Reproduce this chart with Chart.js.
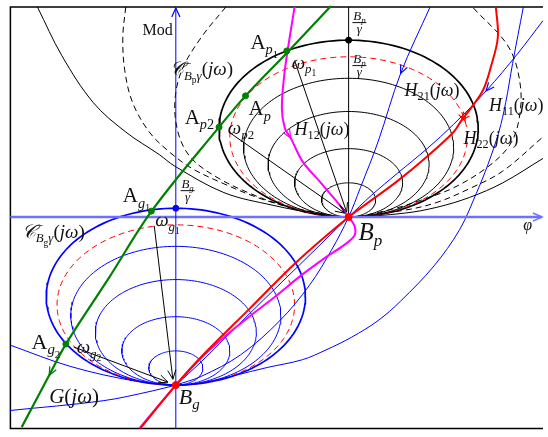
<!DOCTYPE html>
<html>
<head>
<meta charset="utf-8">
<script src="https://cdn.jsdelivr.net/npm/chart.js@4/dist/chart.umd.min.js"></script>
<style>
  html, body { margin: 0; padding: 0; background: #fff; }
  canvas { display: block; }
</style>
</head>
<body>
<canvas id="chart" width="548" height="437"></canvas>
<script>
// plane: phi to the right, Mod upward, origin where the two axes cross
const Bp = [176, 0]
const Bg = [0, -172]

// closed contours tangent to the phi axis at Bp and at Bg (half widths, half heights)
const contourRx = [132, 121, 107, 82, 55, 27.5]
const contourRy = [90.5, 82, 71, 54, 35, 17.5]

// wider contours through Bp
const bigSolid = [[-141,215],[-116,165],[-84,117],[-51,87],[-17,64],[-1,52],[49,25],[99,12],[146,3],[176,0],[233,4],[266,10],[299,20],[333,35],[374,60]]
const dashOuter = [[-51,215],[-54,184],[-52,150],[-44,117],[-27,87],[-7,67],[16,50],[49,34],[83,20],[116,10],[146,4],[176,0],[233,7],[266,15],[299,29],[333,47],[374,82]]
const dashInner = [[51,215],[26,184],[6,150],[-1,117],[3,84],[16,60],[43,40],[76,24],[109,12],[146,4],[176,0],[216,7],[249,17],[283,30],[316,50],[339,72],[349,97],[351,134],[339,174],[303,214]]

// wider contours through Bg
const bgArc = [[354,215],[343,157],[336,117],[329,87],[318,54],[306,24],[289,-13],[263,-50],[229,-86],[206,-106],[179,-123],[153,-136],[129,-146],[93,-154],[26,-170],[0,-172]]
const bgLowLeft = [[-169,-198],[-74,-188],[-24,-178],[0,-172]]
const bgUpLeft = [[-169,-131],[-107,-153],[-41,-168],[0,-172]]

// frequency responses
const gCurve = [[158,216],[114,169],[71,124],[44,92],[-24,7],[-68,-62],[-112,-130],[-129,-162],[-157,-215]]
const h12Curve = [[121,215],[116,184],[111,150],[108,112],[111,91],[117,81],[129,57],[146,37],[163,17],[176,0],[182,-9],[182,-19],[171,-29],[153,-41],[126,-61],[103,-80],[76,-101],[49,-123],[26,-144],[0,-172],[-37,-216]]
const redCurve = [[326,215],[328,184],[321,154],[313,130],[301,112],[291,99],[283,87],[256,62],[226,37],[199,17],[176,0],[123,-46],[76,-93],[26,-143],[0,-172],[-36,-216]]
const h11Curve = [[374,201],[348,167],[316,129],[283,95],[256,70],[226,45],[199,22],[176,0],[126,-49],[76,-98],[26,-148],[0,-172]]
const h21Curve = [[259,215],[229,147],[206,77],[188,30],[176,0],[159,-33],[136,-70],[106,-106],[66,-141],[26,-163],[0,-172]]

// marked points
const greenDots = [[-112,-130],[-25,6],[44,92],[71,124],[113,170]]
const topBp = [176, 181]
const topBg = [0, 9]

// omega pointers: from label to point
const omegaArrows = [
  [[121,160],[174,5]],
  [[54,87],[172,4]],
  [[-22,-9],[-3,-166]],
  [[-104,-133],[-8,-169]]
]

const frameLine = [[400,215],[-168.5,215],[-168.5,-216.5],[400,-216.5]]
const phiAxis = [[-168.5,0],[373,0]]
const modAxis = [[0,-216.5],[0,214]]
const bpVertical = [[176,0],[176,215]]

const labels = [
  {at: [-34,186], size: 16, runs: [['Mod','r']]},
  {at: [-6,145], size: 19, runs: [['𝒞','i'],['−','sup'],['B','s'],['p','ss'],['γ','s'],['(','r'],['jω','i'],[')','r']]},
  {at: [76,172], size: 21, runs: [['A','r'],['p','s'],['1','ss']]},
  {at: [118,152], size: 19, runs: [['ω','i'],['p','s'],['1','ss']]},
  {at: [74,104], size: 21, runs: [['A','r'],['p','s']]},
  {at: [9,95], size: 21, runs: [['A','r'],['p','s'],['2','sr']]},
  {at: [53,85], size: 19, runs: [['ω','i'],['p','s'],['2','sr']]},
  {at: [233,124], size: 18, runs: [['H','i'],['21','sr'],['(','r'],['jω','i'],[')','r']]},
  {at: [319,109], size: 18, runs: [['H','i'],['11','sr'],['(','r'],['jω','i'],[')','r']]},
  {at: [121,84], size: 18, runs: [['H','i'],['12','sr'],['(','r'],['jω','i'],[')','r']]},
  {at: [293,75], size: 18, runs: [['H','i'],['22','sr'],['(','r'],['jω','i'],[')','r']]},
  {at: [-54,15], size: 21, runs: [['A','r'],['g','s'],['1','ss']]},
  {at: [-21,-9], size: 19, runs: [['ω','i'],['g','s'],['1','ss']]},
  {at: [-157,-21], size: 19, runs: [['𝒞','i'],['−','sup'],['B','s'],['g','ss'],['γ','s'],['(','r'],['jω','i'],[')','r']]},
  {at: [-147,-135], size: 22, runs: [['A','r'],['g','s'],['2','ss']]},
  {at: [-101,-139], size: 19, runs: [['ω','i'],['g','s'],['2','ss']]},
  {at: [-129,-190], size: 21, runs: [['G','i'],['(','r'],['jω','i'],[')','r']]},
  {at: [3,-191], size: 22, runs: [['B','i'],['g','s']]},
  {at: [186,-23], size: 25, runs: [['B','i'],['p','s']]},
  {at: [354,-13], size: 16, runs: [['φ','i']]}
]
const fractions = [
  {at: [187,199], sub: 'p'},
  {at: [187,155], sub: 'p'},
  {at: [12,27], sub: 'g'}
]

const BLUE = '#0000ff'
const AXIS = '#7070ff'
const GREEN = '#008000'
const MAGENTA = '#ff00ff'
const RED = '#ff0000'
const FONT = '"Liberation Serif", "DejaVu Serif", serif'

function pts(list) {
  return list.map(p => ({x: p[0], y: p[1]}))
}

function contour(t, rx, ry) {
  const out = []
  const n = 160
  for (let i = 0; i <= n; i++) {
    const a = i / n * Math.PI * 2
    out.push({x: t[0] + rx * Math.cos(a), y: t[1] + ry + ry * Math.sin(a)})
  }
  return out
}

function line(data, color, width, extra) {
  return Object.assign({
    data: Array.isArray(data[0]) ? pts(data) : data,
    showLine: true,
    borderColor: color,
    borderWidth: width,
    pointRadius: 0,
    tension: 0.35,
    fill: false
  }, extra || {})
}

function main() {
  const layers = []  // bottom to top

  layers.push(line(frameLine, '#000', 1.5, {tension: 0}))
  layers.push(line(bigSolid, '#000', 1))
  layers.push(line(dashOuter, '#000', 1, {borderDash: [6, 4]}))
  layers.push(line(dashInner, '#000', 1, {borderDash: [6, 4]}))
  layers.push(line(bpVertical, '#000', 1, {tension: 0}))

  const families = [
    {t: Bp, main: '#000'},
    {t: Bg, main: BLUE}
  ]
  families.forEach(f => {
    contourRx.forEach((rx, i) => {
      const ry = contourRy[i]
      if (i === 1) {
        layers.push(line(contour(f.t, rx, ry), RED, 1, {tension: 0, borderDash: [6, 4]}))
      } else {
        layers.push(line(contour(f.t, rx, ry), f.main, i === 0 ? 1.7 : 1, {tension: 0}))
      }
    })
  })

  layers.push(line(bgArc, BLUE, 1))
  layers.push(line(bgLowLeft, BLUE, 1))
  layers.push(line(bgUpLeft, BLUE, 1))
  layers.push(line(h21Curve, BLUE, 1))
  layers.push(line(h11Curve, BLUE, 1))

  layers.push(line(phiAxis, AXIS, 2.5, {tension: 0}))
  layers.push(line(modAxis, BLUE, 1, {tension: 0}))

  omegaArrows.forEach(a => layers.push(line(a, '#000', 1, {tension: 0})))

  layers.push(line(h12Curve, MAGENTA, 2))
  layers.push(line(redCurve, RED, 2))
  layers.push(line(gCurve, GREEN, 2.2))

  layers.push({
    data: pts(greenDots), showLine: false, pointRadius: 3,
    pointBackgroundColor: GREEN, pointBorderColor: GREEN
  })
  layers.push({
    data: pts([topBp, topBg]), showLine: false, pointRadius: 3,
    pointBackgroundColor: ['#000', BLUE], pointBorderColor: ['#000', BLUE]
  })
  layers.push({
    data: pts([Bp, Bg]), showLine: false, pointRadius: 3.5,
    pointBackgroundColor: RED, pointBorderColor: RED
  })

  const datasets = layers.reverse()

  // arrow heads: [points, index of tip, colour]
  const curveArrows = [
    [gCurve, 7, GREEN],
    [h12Curve, 5, MAGENTA],
    [redCurve, 5, RED],
    [h11Curve, 2, BLUE],
    [h21Curve, 1, BLUE]
  ]

  const overlay = {
    id: 'overlay',
    afterDatasetsDraw(chart) {
      const ctx = chart.ctx
      const sx = chart.scales.x
      const sy = chart.scales.y
      const P = p => [sx.getPixelForValue(p[0]), sy.getPixelForValue(p[1])]

      function chevron(tip, from, color, len, width) {
        const ang = Math.atan2(tip[1] - from[1], tip[0] - from[0])
        ctx.save()
        ctx.strokeStyle = color
        ctx.lineWidth = width
        ctx.beginPath()
        ctx.moveTo(tip[0] - len * Math.cos(ang - 0.42), tip[1] - len * Math.sin(ang - 0.42))
        ctx.lineTo(tip[0], tip[1])
        ctx.lineTo(tip[0] - len * Math.cos(ang + 0.42), tip[1] - len * Math.sin(ang + 0.42))
        ctx.stroke()
        ctx.restore()
      }

      curveArrows.forEach(([c, i, col]) => {
        chevron(P(c[i]), P(c[i - 1]), col, 9, 1.2)
      })
      omegaArrows.forEach(a => chevron(P(a[1]), P(a[0]), '#000', 10, 1))
      chevron(P(phiAxis[1]), P(phiAxis[0]), AXIS, 10, 1.5)
      chevron(P(modAxis[1]), P(modAxis[0]), BLUE, 10, 1.2)

      // arrow on the dashed contour through Bp
      const rx = contourRx[1], ry = contourRy[1]
      const onC = a => [Bp[0] + rx * Math.cos(a), Bp[1] + ry + ry * Math.sin(a)]
      chevron(P(onC(0.2)), P(onC(0.3)), RED, 9, 1.2)

      ctx.save()
      ctx.fillStyle = '#111'
      ctx.textBaseline = 'alphabetic'
      labels.forEach(l => {
        const [px, py] = P(l.at)
        drawRuns(ctx, px, py, l.runs, l.size)
      })
      fractions.forEach(f => {
        const [cx, cy] = P(f.at)
        const s = 13
        const runs = [['B','i'],[f.sub,'s']]
        const w = runsWidth(ctx, runs, s)
        drawRuns(ctx, cx - w / 2, cy - 3, runs, s)
        ctx.fillRect(cx - 7, cy - 0.5, 14, 1)
        ctx.font = 'italic ' + s + 'px ' + FONT
        const gw = ctx.measureText('γ').width
        ctx.fillText('γ', cx - gw / 2, cy + 10)
      })
      ctx.restore()
    }
  }

  new Chart(document.getElementById('chart'), {
    type: 'scatter',
    data: {datasets: datasets},
    options: {
      responsive: false,
      animation: false,
      events: [],
      layout: {padding: 0},
      plugins: {legend: {display: false}, tooltip: {enabled: false}},
      scales: {
        x: {type: 'linear', min: -174, max: 374, display: false},
        y: {type: 'linear', min: -220, max: 217, display: false}
      }
    },
    plugins: [overlay]
  })
}

function runStyle(kind, size) {
  let fs = size, dy = 0, style = 'italic', adv = true
  if (kind === 'r') style = 'normal'
  if (kind === 's') { fs = size * 0.68; dy = size * 0.25 }
  if (kind === 'sr') { fs = size * 0.68; dy = size * 0.25; style = 'normal' }
  if (kind === 'ss') { fs = size * 0.5; dy = size * 0.42; style = 'normal' }
  if (kind === 'sup') { fs = size * 0.68; dy = -size * 0.4; style = 'normal'; adv = false }
  return {font: style + ' ' + fs + 'px ' + FONT, dy: dy, adv: adv}
}

function runsWidth(ctx, runs, size) {
  let w = 0
  runs.forEach(([t, k]) => {
    const st = runStyle(k, size)
    ctx.font = st.font
    if (st.adv) w += ctx.measureText(t).width
  })
  return w
}

function drawRuns(ctx, x, y, runs, size) {
  let cx = x
  runs.forEach(([t, k]) => {
    const st = runStyle(k, size)
    ctx.font = st.font
    ctx.fillText(t, cx, y + st.dy)
    if (st.adv) cx += ctx.measureText(t).width
  })
}

document.addEventListener('DOMContentLoaded', main)
</script>
</body>
</html>
